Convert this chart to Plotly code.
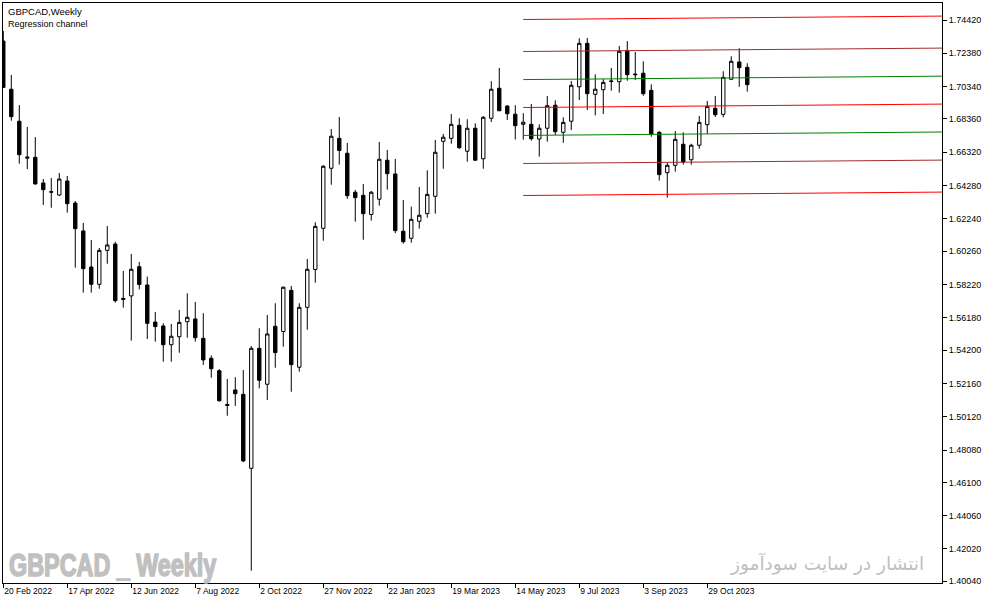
import pandas as pd
import plotly.graph_objects as go

# weekly bars, the first one is the week of 20 Feb 2022
first_week = "2022-02-20"
n_weeks = 94

opens = [1.7313, 1.7018, 1.6822, 1.6603, 1.6601, 1.6444, 1.6390, 1.6370, 1.6456, 1.6321,
         1.6150, 1.5929, 1.5823, 1.6031, 1.6070, 1.5737, 1.5752, 1.5931, 1.5819, 1.5592,
         1.5568, 1.5453, 1.5502, 1.5594, 1.5611, 1.5492, 1.5370, 1.5294, 1.5087, 1.5176,
         1.5149, 1.4696, 1.5431, 1.5211, 1.5566, 1.5534, 1.5786, 1.5315, 1.5682, 1.5914,
         1.6166, 1.6534, 1.6717, 1.6626, 1.6387, 1.6368, 1.6251, 1.6344, 1.6583, 1.6499,
         1.6148, 1.6105, 1.6209, 1.6256, 1.6362, 1.6699, 1.6717, 1.6797, 1.6638, 1.6779,
         1.6592, 1.6840, 1.7024, 1.6915, 1.6865, 1.6803, 1.6803, 1.6713, 1.6779, 1.6920,
         1.6754, 1.6822, 1.7033, 1.7299, 1.6987, 1.7015, 1.7065, 1.7064, 1.7254, 1.7111,
         1.7116, 1.7011, 1.6754, 1.6507, 1.6552, 1.6681, 1.6586, 1.6675, 1.6801, 1.6901,
         1.6864, 1.7079, 1.7185, 1.7152]
highs = [1.7375, 1.7105, 1.6921, 1.6787, 1.6725, 1.6468, 1.6474, 1.6505, 1.6487, 1.6333,
         1.6199, 1.6095, 1.6046, 1.6180, 1.6084, 1.5905, 1.6009, 1.5960, 1.5870, 1.5654,
         1.5584, 1.5580, 1.5666, 1.5768, 1.5715, 1.5646, 1.5388, 1.5303, 1.5243, 1.5254,
         1.5298, 1.5445, 1.5554, 1.5635, 1.5707, 1.5810, 1.5813, 1.5707, 1.5978, 1.6203,
         1.6554, 1.6774, 1.6848, 1.6689, 1.6401, 1.6438, 1.6395, 1.6695, 1.6646, 1.6591,
         1.6340, 1.6299, 1.6419, 1.6521, 1.6707, 1.6744, 1.6866, 1.6840, 1.6834, 1.6809,
         1.6854, 1.7067, 1.7148, 1.6921, 1.6920, 1.6871, 1.6928, 1.6803, 1.6977, 1.6950,
         1.6846, 1.7068, 1.7330, 1.7332, 1.7109, 1.7079, 1.7148, 1.7283, 1.7313, 1.7246,
         1.7189, 1.7048, 1.6762, 1.6568, 1.6762, 1.6754, 1.6684, 1.6854, 1.6946, 1.6977,
         1.7128, 1.7220, 1.7269, 1.7177]
lows = [1.7026, 1.6825, 1.6562, 1.6529, 1.6433, 1.6309, 1.6292, 1.6364, 1.6262, 1.5925,
        1.5772, 1.5772, 1.5796, 1.5949, 1.5711, 1.5680, 1.5478, 1.5792, 1.5488, 1.5472,
        1.5349, 1.5349, 1.5404, 1.5496, 1.5472, 1.5329, 1.5251, 1.5104, 1.5018, 1.5078,
        1.4735, 1.4069, 1.5186, 1.5115, 1.5312, 1.5441, 1.5165, 1.5288, 1.5545, 1.5833,
        1.6090, 1.6433, 1.6556, 1.6346, 1.6207, 1.6096, 1.6213, 1.6305, 1.6403, 1.6136,
        1.6072, 1.6078, 1.6164, 1.6231, 1.6256, 1.6531, 1.6684, 1.6652, 1.6574, 1.6582,
        1.6531, 1.6817, 1.6885, 1.6830, 1.6710, 1.6709, 1.6703, 1.6605, 1.6697, 1.6738,
        1.6690, 1.6768, 1.6952, 1.6891, 1.6858, 1.6866, 1.7009, 1.6997, 1.7070, 1.7075,
        1.6978, 1.6727, 1.6458, 1.6354, 1.6513, 1.6556, 1.6556, 1.6654, 1.6744, 1.6848,
        1.6846, 1.7078, 1.7033, 1.7003]
closes = [1.7029, 1.6850, 1.6617, 1.6597, 1.6438, 1.6403, 1.6388, 1.6468, 1.6317, 1.6164,
          1.5919, 1.5823, 1.6031, 1.6064, 1.5723, 1.5731, 1.5915, 1.5822, 1.5584, 1.5564,
          1.5453, 1.5505, 1.5590, 1.5621, 1.5496, 1.5360, 1.5306, 1.5110, 1.5082, 1.5153,
          1.4741, 1.5431, 1.5235, 1.5519, 1.5405, 1.5805, 1.5331, 1.5682, 1.5915, 1.6178,
          1.6546, 1.6730, 1.6643, 1.6366, 1.6354, 1.6256, 1.6387, 1.6589, 1.6501, 1.6152,
          1.6084, 1.6221, 1.6246, 1.6374, 1.6632, 1.6724, 1.6803, 1.6660, 1.6779, 1.6583,
          1.6846, 1.7018, 1.6886, 1.6868, 1.6795, 1.6816, 1.6715, 1.6779, 1.6917, 1.6758,
          1.6815, 1.7042, 1.7299, 1.6991, 1.7018, 1.7060, 1.7068, 1.7250, 1.7107, 1.7107,
          1.6991, 1.6744, 1.6495, 1.6552, 1.6711, 1.6572, 1.6675, 1.6815, 1.6913, 1.6862,
          1.7091, 1.7189, 1.7150, 1.7046]

# regression channel: starts on the 21 May 2023 bar and runs to the right edge
channel_start = "2023-05-21"
channel_mid = [1.6906, 1.6927]          # centre line at start / at right edge
channel_offsets = [0.0171, 0.0343, 0.0539]
channel_colors = ["#008000", "#a52a2a", "#ff0000"]

price_ticks = [1.74420, 1.72380, 1.70340, 1.68360, 1.66320, 1.64280, 1.62240, 1.60260, 1.58220,
               1.56180, 1.54200, 1.52160, 1.50120, 1.48080, 1.46100, 1.44060, 1.42020, 1.40040]
date_ticks = ["2022-02-20", "2022-04-17", "2022-06-12", "2022-08-07", "2022-10-02", "2022-11-27",
              "2023-01-22", "2023-03-19", "2023-05-14", "2023-07-09", "2023-09-03", "2023-10-29"]
date_labels = ["20 Feb 2022", "17 Apr 2022", "12 Jun 2022", "7 Aug 2022", "2 Oct 2022",
               "27 Nov 2022", "22 Jan 2023", "19 Mar 2023", "14 May 2023", "9 Jul 2023",
               "3 Sep 2023", "29 Oct 2023"]

dates = pd.date_range(first_week, periods=n_weeks, freq="7D")
x_left = pd.Timestamp(first_week) - pd.Timedelta(hours=6)
x_right = pd.Timestamp(first_week) + pd.Timedelta(days=821.4)

fig = go.Figure()

fig.add_trace(go.Candlestick(
    x=dates, open=opens, high=highs, low=lows, close=closes,
    increasing=dict(line=dict(color="black", width=1), fillcolor="white"),
    decreasing=dict(line=dict(color="black", width=1), fillcolor="black"),
    whiskerwidth=0, showlegend=False, hoverinfo="skip"))

# centre line + three pairs of deviation lines
fig.add_trace(go.Scatter(x=[channel_start, x_right], y=channel_mid, mode="lines",
                         line=dict(color="#ff0000", width=1), showlegend=False, hoverinfo="skip"))
for off, col in zip(channel_offsets, channel_colors):
    for sign in (1, -1):
        fig.add_trace(go.Scatter(
            x=[channel_start, x_right], y=[m + sign * off for m in channel_mid], mode="lines",
            line=dict(color=col, width=1), showlegend=False, hoverinfo="skip"))

fig.update_xaxes(
    type="date", range=[x_left, x_right], rangeslider_visible=False,
    showgrid=False, zeroline=False, showline=True, mirror=True, linecolor="black", linewidth=1,
    ticks="outside", ticklen=4, tickcolor="black",
    tickvals=date_ticks, ticktext=date_labels, ticklabelposition="outside right",
    tickfont=dict(family="Liberation Sans, Arial, sans-serif", size=8.5, color="black"))

fig.update_yaxes(
    side="right", range=[1.39936, 1.75461],
    showgrid=False, zeroline=False, showline=True, mirror=True, linecolor="black", linewidth=1,
    ticks="outside", ticklen=4, tickcolor="black",
    tickvals=price_ticks, ticktext=["%.5f" % v for v in price_ticks],
    tickfont=dict(family="Liberation Sans, Arial, sans-serif", size=9, color="black"))

fig.add_annotation(text="GBPCAD,Weekly", xref="paper", yref="paper", x=0.003, y=0.986,
                   xanchor="left", yanchor="middle", showarrow=False,
                   font=dict(family="Liberation Sans, Arial, sans-serif", size=9.5, color="black"))
fig.add_annotation(text="Regression channel", xref="paper", yref="paper", x=0.003, y=0.964,
                   xanchor="left", yanchor="middle", showarrow=False,
                   font=dict(family="Liberation Sans, Arial, sans-serif", size=9, color="black"))

fig.add_annotation(text="<b>GBPCAD _ Weekly</b>", xref="paper", yref="paper", x=0.004, y=0.031,
                   xanchor="left", yanchor="middle", showarrow=False,
                   font=dict(family="Liberation Sans, Arial, sans-serif", size=32, color="#c0c0c0"))
fig.add_annotation(text="انتشار در سایت سودآموز", xref="paper", yref="paper", x=0.983, y=0.033,
                   xanchor="right", yanchor="middle", showarrow=False,
                   font=dict(family="DejaVu Sans, sans-serif", size=18.5, color="#c0c0c0"))

fig.update_layout(
    width=987, height=605,
    margin=dict(l=3, r=45, t=3, b=22),
    paper_bgcolor="white", plot_bgcolor="white",
    boxgap=0.4)

# page without the default body margin; the watermark font is squeezed and thickened
# like the heavy condensed font of the original
post_js = """
document.body.style.margin = '0';
var gd = document.getElementById('{plot_id}');
gd.querySelectorAll('.annotation-text').forEach(function (t) {
  if (t.textContent.indexOf('_ Weekly') >= 0) {
    t.style.transformBox = 'fill-box';
    t.style.transformOrigin = 'left center';
    t.style.transform = 'scaleX(0.73)';
    t.style.stroke = '#c0c0c0';
    t.style.strokeWidth = '1.6px';
  }
});
"""

fig.write_html("out.html", post_script=post_js, config={"displayModeBar": False})
